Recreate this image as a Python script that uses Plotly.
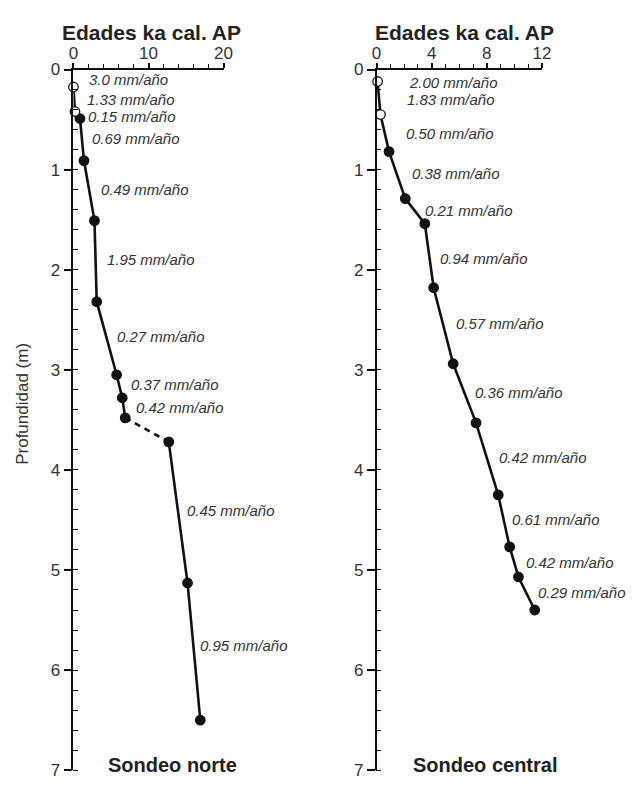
import plotly.graph_objects as go

# ---- data ----
norte_age = [0.0, 0.2, 0.87, 1.4, 2.8, 3.1, 5.75, 6.5, 6.9, 12.7, 15.2, 16.9]
norte_depth = [0.175, 0.42, 0.49, 0.91, 1.51, 2.32, 3.05, 3.28, 3.48, 3.72, 5.13, 6.5]
norte_open = 2          # first points drawn as open circles
norte_gap = 8           # dashed segment starts at this index

central_age = [0.07, 0.28, 0.9, 2.08, 3.5, 4.14, 5.56, 7.22, 8.83, 9.66, 10.3, 11.48]
central_depth = [0.12, 0.45, 0.82, 1.29, 1.54, 2.18, 2.94, 3.53, 4.25, 4.77, 5.07, 5.40]
central_open = 2

norte_rates = ["3.0", "1.33", "0.15", "0.69", "0.49", "1.95", "0.27", "0.37", "0.42", "0.45", "0.95"]
norte_rate_age = [1.83, 1.56, 1.7, 2.2, 3.4, 4.26, 5.57, 7.4, 8.1, 14.8, 16.6]
norte_rate_depth = [0.097, 0.30, 0.47, 0.69, 1.2, 1.9, 2.67, 3.15, 3.375, 4.41, 5.75]

central_rates = ["2.00", "1.83", "0.50", "0.38", "0.21", "0.94", "0.57", "0.36", "0.42", "0.61", "0.42", "0.29"]
central_rate_age = [2.18, 2.08, 2.01, 2.41, 3.36, 4.45, 5.63, 6.98, 8.71, 9.66, 10.7, 11.6]
central_rate_depth = [0.133, 0.30, 0.635, 1.04, 1.41, 1.89, 2.54, 3.23, 3.88, 4.5, 4.93, 5.23]

x_title = "Edades ka cal. AP"
y_title = "Profundidad (m)"
panel_names = ["Sondeo norte", "Sondeo central"]

# ---- figure ----
W, H = 634, 786
FONT = "Liberation Sans, Arial, sans-serif"
LINE = "#111111"
TXT = "#333333"

fig = go.Figure()

def line_trace(x, y, xa, ya, dash="solid"):
    return go.Scatter(x=x, y=y, mode="lines", xaxis=xa, yaxis=ya,
                      line=dict(color=LINE, width=2.6, dash=dash),
                      showlegend=False, hoverinfo="skip", cliponaxis=False)

def marker_trace(x, y, xa, ya, hollow):
    return go.Scatter(x=x, y=y, mode="markers", xaxis=xa, yaxis=ya,
                      marker=dict(size=9.5, symbol="circle",
                                  color="white" if hollow else LINE,
                                  line=dict(color=LINE, width=1.3)),
                      showlegend=False, cliponaxis=False)

# Sondeo norte
fig.add_trace(line_trace(norte_age[:norte_gap + 1], norte_depth[:norte_gap + 1], "x", "y"))
fig.add_trace(line_trace(norte_age[norte_gap:norte_gap + 2], norte_depth[norte_gap:norte_gap + 2], "x", "y", dash="6px,5px"))
fig.add_trace(line_trace(norte_age[norte_gap + 1:], norte_depth[norte_gap + 1:], "x", "y"))
fig.add_trace(marker_trace(norte_age[norte_open:], norte_depth[norte_open:], "x", "y", False))
fig.add_trace(marker_trace(norte_age[:norte_open], norte_depth[:norte_open], "x", "y", True))

# Sondeo central
fig.add_trace(line_trace(central_age, central_depth, "x2", "y2"))
fig.add_trace(marker_trace(central_age[central_open:], central_depth[central_open:], "x2", "y2", False))
fig.add_trace(marker_trace(central_age[:central_open], central_depth[:central_open], "x2", "y2", True))

annotations = []
for t, a, d in zip(norte_rates, norte_rate_age, norte_rate_depth):
    annotations.append(dict(x=a, y=d, xref="x", yref="y", text=f"<i>{t} mm/año</i>",
                            showarrow=False, xanchor="left", yanchor="middle",
                            font=dict(family=FONT, size=15, color=TXT)))
for t, a, d in zip(central_rates, central_rate_age, central_rate_depth):
    annotations.append(dict(x=a, y=d, xref="x2", yref="y2", text=f"<i>{t} mm/año</i>",
                            showarrow=False, xanchor="left", yanchor="middle",
                            font=dict(family=FONT, size=15, color=TXT)))

# titles
for cx in (150, 469.5):
    annotations.append(dict(x=cx / W, y=1 - 24 / H, xref="paper", yref="paper",
                            text=f"<b>{x_title}</b>", showarrow=False,
                            xanchor="center", yanchor="middle",
                            font=dict(family=FONT, size=21, color="#222222")))
for cx, name in zip((171.7, 490.5), panel_names):
    annotations.append(dict(x=cx / W, y=1 - 775 / H, xref="paper", yref="paper",
                            text=f"<b>{name}</b>", showarrow=False,
                            xanchor="center", yanchor="middle",
                            font=dict(family=FONT, size=20, color="#222222")))
annotations.append(dict(x=18 / W, y=1 - 405 / H, xref="paper", yref="paper",
                        text=y_title, showarrow=False, textangle=-90,
                        xanchor="center", yanchor="middle",
                        font=dict(family=FONT, size=17, color=TXT)))

y_top = 1 - 62 / H
y_bot = 1 - 780 / H

def xaxis(dom, rng, dtick, minor_dtick, anchor):
    return dict(domain=dom, range=rng, side="top", anchor=anchor,
                showline=True, linecolor=LINE, linewidth=1.5,
                ticks="outside", ticklen=5, tickwidth=1.5, tickcolor=LINE,
                dtick=dtick, tick0=0, showgrid=False, zeroline=False,
                ticklabelstandoff=-3,
                tickfont=dict(family=FONT, size=17, color=TXT),
                minor=dict(dtick=minor_dtick, ticks="outside", ticklen=4,
                           tickwidth=1.2, tickcolor=LINE, showgrid=False),
                fixedrange=True)

def yaxis(anchor):
    return dict(domain=[y_bot, y_top], range=[7, 0], anchor=anchor,
                showline=True, linecolor=LINE, linewidth=1.5,
                ticks="outside", ticklen=8, tickwidth=1.5, tickcolor=LINE,
                dtick=1, tick0=0, showgrid=False, zeroline=False,
                ticklabeloverflow="allow",
                tickfont=dict(family=FONT, size=17, color=TXT),
                minor=dict(dtick=0.2, ticks="inside", ticklen=5,
                           tickwidth=1.2, tickcolor=LINE, showgrid=False),
                fixedrange=True)

fig.update_layout(
    width=W, height=H,
    margin=dict(l=0, r=0, t=0, b=0),
    paper_bgcolor="white", plot_bgcolor="white",
    showlegend=False,
    xaxis=xaxis([70 / W, 223.5 / W], [0, 20], 10, 2, "y"),
    yaxis=yaxis("x"),
    xaxis2=xaxis([380 / W, 549 / W], [0, 12], 4, 1, "y2"),
    yaxis2=yaxis("x2"),
    annotations=annotations,
)

fig.write_html("out.html")
